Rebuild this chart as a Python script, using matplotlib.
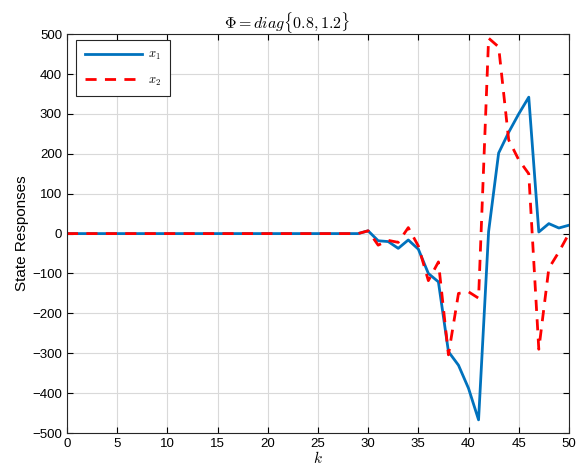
import numpy as np
import matplotlib.pyplot as plt

plt.rcParams['font.family'] = ['Liberation Sans', 'DejaVu Sans']
plt.rcParams['mathtext.fontset'] = 'cm'

k = np.arange(0, 51)

# x1 and x2 for k = 29..50 (both stay at zero before)
x1_tail = [0, 7, -18, -20, -37, -16, -39, -100, -121, -296, -330, -388, -467,
           5, 202, 254, 300, 342, 4, 25, 14, 21]
x2_tail = [0, 7, -29, -17, -22, 15, -31, -118, -71, -304, -150, -146, -162,
           490, 468, 235, 185, 150, -290, -87, -46, 0]

x1 = np.array([0] * 29 + x1_tail, dtype=float)
x2 = np.array([0] * 29 + x2_tail, dtype=float)

fig = plt.figure(figsize=(5.77, 4.72), dpi=100)
ax = fig.add_axes([0.116, 0.0826, 0.870, 0.845])

ax.plot(k, x1, color='#0072BD', lw=2.0, label='$x_1$')
ax.plot(k, x2, color='red', lw=2.0, ls=(0, (4, 3)), label='$x_2$')

ax.set_xlim(0, 50)
ax.set_ylim(-500, 500)
ax.set_xticks(np.arange(0, 51, 5))
ax.set_yticks(np.arange(-500, 501, 100))
ax.grid(True, color='#d9d9d9', lw=0.8)
ax.tick_params(direction='in', top=True, right=True, labelsize=9.5, length=4)
for s in ax.spines.values():
    s.set_color('#262626')
    s.set_linewidth(0.8)

ax.set_title(r'$\Phi = diag\{0.8, 1.2\}$', fontsize=11.5, pad=4, x=0.438)
ax.set_xlabel('$k$', fontsize=11, labelpad=0)
ax.set_ylabel('State Responses', fontsize=11, labelpad=2)

leg = ax.legend(loc='upper left', fontsize=9, fancybox=False, framealpha=1,
                edgecolor='#262626', handlelength=4.6, handletextpad=0.5,
                borderpad=0.7, labelspacing=1.0, borderaxespad=0,
                bbox_to_anchor=(0.018, 0.985))
leg.get_frame().set_linewidth(0.8)

fig.savefig('out.png', dpi=100)
